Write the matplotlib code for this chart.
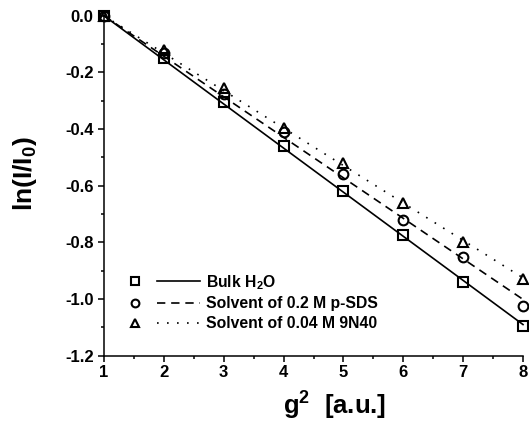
import numpy as np
import matplotlib
matplotlib.use("Agg")
import matplotlib.pyplot as plt
from matplotlib.legend_handler import HandlerTuple
from matplotlib.ticker import MultipleLocator, FormatStrFormatter

plt.rcParams['font.family'] = ['Liberation Sans', 'DejaVu Sans']
plt.rcParams['font.weight'] = 'bold'
plt.rcParams['axes.unicode_minus'] = False
plt.rcParams['mathtext.fontset'] = 'custom'
plt.rcParams['mathtext.rm'] = 'Liberation Sans:bold'
plt.rcParams['mathtext.it'] = 'Liberation Sans:bold'
plt.rcParams['mathtext.bf'] = 'Liberation Sans:bold'

# Data
g2 = [1, 2, 3, 4, 5, 6, 7, 8]
bulk_h2o = [0.0, -0.150, -0.305, -0.460, -0.620, -0.775, -0.940, -1.095]
psds = [0.0, -0.130, -0.275, -0.410, -0.560, -0.720, -0.850, -1.025]
n940 = [0.0, -0.120, -0.255, -0.395, -0.520, -0.660, -0.800, -0.930]
labels = ['Bulk H$_2$O', 'Solvent of 0.2 M p-SDS', 'Solvent of 0.04 M 9N40']
markers = ['s', 'o', '^']
linestyles = ['-', (0, (5, 3.5)), (0, (1, 5))]

fig = plt.figure(figsize=(5.29, 4.22), dpi=100)
ax = fig.add_axes([104/529, 1-355.7/422, 419/529, (355.7-11.5)/422])

x = np.array(g2, dtype=float)
handles = []
msizes = {'s': 7.0, 'o': 7.0, '^': 7.5}
for ys, m, ls, lab in zip([bulk_h2o, psds, n940], markers, linestyles, labels):
    y = np.array(ys)
    dx = x - x[0]
    slope = np.sum(dx * (y - y[0])) / np.sum(dx * dx)
    fit = y[0] + slope * dx
    ln, = ax.plot(x, fit, color='black', lw=1.2, linestyle=ls, clip_on=False)
    mk, = ax.plot(x, y, linestyle='none', marker=m, markersize=msizes[m],
                  markerfacecolor='none', markeredgecolor='black', markeredgewidth=1.5,
                  clip_on=False, zorder=3)
    handles.append((mk, ln))

ax.set_xlim(1, 8)
ax.set_ylim(-1.2, 0.015)
ax.spines['top'].set_visible(False)
ax.spines['right'].set_visible(False)
for s in ['left', 'bottom']:
    ax.spines[s].set_linewidth(1.1)

ax.xaxis.set_major_locator(MultipleLocator(1))
ax.xaxis.set_minor_locator(MultipleLocator(0.5))
ax.yaxis.set_major_locator(MultipleLocator(0.2))
ax.yaxis.set_minor_locator(MultipleLocator(0.1))
ax.yaxis.set_major_formatter(FormatStrFormatter('%.1f'))
ax.tick_params(which='major', direction='out', length=4.5, width=1.1, labelsize=12)
ax.tick_params(which='minor', direction='out', length=2.5, width=1.1)
ax.tick_params(axis='x', which='major', pad=2.5)
ax.tick_params(axis='y', which='major', pad=3)
for t in ax.get_xticklabels() + ax.get_yticklabels():
    t.set_fontweight('bold')

ax.set_xlabel('g$^2$  [a.u.]', fontsize=18.5, fontweight='bold')
ax.set_ylabel('ln(I/I$_0$)', fontsize=19, fontweight='bold')
ax.xaxis.set_label_coords(0.551, -0.098)
ax.yaxis.set_label_coords(-0.155, 0.529)

leg = ax.legend(handles, labels, handler_map={tuple: HandlerTuple(ndivide=None, pad=0.05)},
                loc='center left', bbox_to_anchor=(0.0227, 0.156), frameon=False,
                borderaxespad=0, borderpad=0, handlelength=5.5, handletextpad=0.38,
                labelspacing=0.3, markerscale=0.8, prop={'weight': 'bold', 'size': 11.3})

fig.savefig('out.png', dpi=100)
